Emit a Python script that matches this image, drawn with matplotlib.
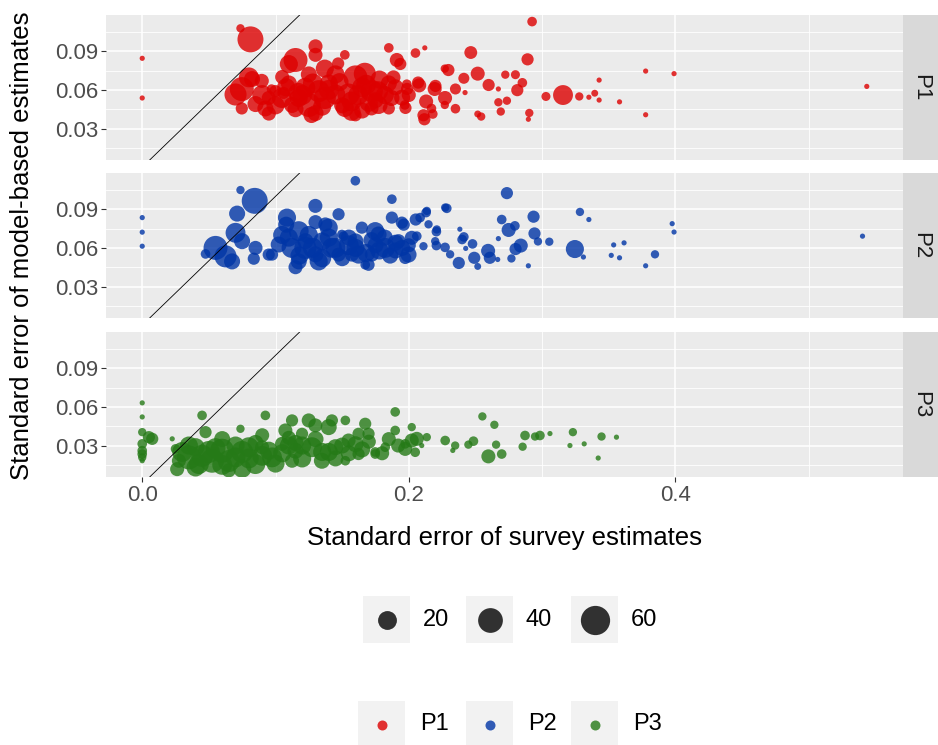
import numpy as np
import matplotlib
matplotlib.use("Agg")
import matplotlib.pyplot as plt
from matplotlib.patches import Rectangle
from matplotlib.ticker import MultipleLocator, FormatStrFormatter

plt.rcParams['font.family'] = ['Liberation Sans', 'DejaVu Sans']

DPI = 100
W, H = 938, 745

panels = ['P1', 'P2', 'P3']
colours = {'P1': '#DD0000', 'P2': '#0035A6', 'P3': '#257A17'}
size_breaks = [20, 40, 60]
size_limits = (1, 70)

# standard error of survey estimate (x), of model-based estimate (y), sample size (n)
p1_x = [0.000, 0.000, 0.0737, 0.0812, 0.0747, 0.0700, 0.0800, 0.0897, 0.0747, 0.0970,
        0.0924, 0.0950, 0.1047, 0.1150, 0.1100, 0.1300, 0.1300, 0.1370, 0.1520, 0.1470,
        0.1250, 0.1270, 0.1170, 0.1370, 0.1600, 0.1670, 0.1570, 0.1600, 0.1720, 0.1770,
        0.1850, 0.1910, 0.1885, 0.1870, 0.1850, 0.2050, 0.2120, 0.1985, 0.2070, 0.1970,
        0.2110, 0.2200, 0.2170, 0.2270, 0.2270, 0.2925, 0.1936, 0.2465, 0.2297, 0.2517,
        0.2413, 0.2724, 0.2800, 0.2891, 0.2852, 0.2814, 0.2599, 0.2672, 0.2350, 0.2194,
        0.2078, 0.1987, 0.2272, 0.2130, 0.1975, 0.2117, 0.2180, 0.2350, 0.2422, 0.2517,
        0.2543, 0.2672, 0.2736, 0.2690, 0.2904, 0.2897, 0.3029, 0.3157, 0.3279, 0.3351,
        0.3395, 0.3428, 0.3428, 0.3581, 0.3777, 0.3777, 0.3990, 0.5436, 0.0824, 0.0999,
        0.1060, 0.1124, 0.1224, 0.1324, 0.1449, 0.1570, 0.1723, 0.1773, 0.1548, 0.1174,
        0.0949, 0.1400, 0.1650, 0.1850, 0.1100, 0.1500, 0.1750,
        0.0900, 0.1000, 0.1080, 0.1150, 0.1200, 0.1280, 0.1350, 0.1400, 0.1480, 0.1520,
        0.1620, 0.1680, 0.1700, 0.1780, 0.1820, 0.1900, 0.1950, 0.1450, 0.1250, 0.1050,
        0.0850, 0.1650, 0.2000, 0.1300]
p1_y = [0.0845, 0.0537, 0.1078, 0.0992, 0.0606, 0.0564, 0.0697, 0.0670, 0.0456, 0.0606,
        0.0456, 0.0416, 0.0537, 0.0832, 0.0800, 0.0938, 0.0872, 0.0765, 0.0872, 0.0805,
        0.0483, 0.0405, 0.0577, 0.0537, 0.0697, 0.0725, 0.0510, 0.0403, 0.0456, 0.0590,
        0.0926, 0.0832, 0.0697, 0.0537, 0.0456, 0.0886, 0.0926, 0.0644, 0.0657, 0.0483,
        0.0403, 0.0631, 0.0456, 0.0765, 0.0483, 0.1130, 0.0801, 0.0890, 0.0754, 0.0726,
        0.0690, 0.0718, 0.0718, 0.0837, 0.0655, 0.0598, 0.0638, 0.0607, 0.0607, 0.0607,
        0.0635, 0.0607, 0.0537, 0.0510, 0.0460, 0.0372, 0.0413, 0.0454, 0.0579, 0.0413,
        0.0393, 0.0504, 0.0516, 0.0432, 0.0421, 0.0372, 0.0549, 0.0560, 0.0549, 0.0543,
        0.0574, 0.0521, 0.0676, 0.0507, 0.0746, 0.0407, 0.0726, 0.0627, 0.0684, 0.0590,
        0.0577, 0.0483, 0.0617, 0.0590, 0.0564, 0.0430, 0.0590, 0.0483, 0.0564, 0.0537,
        0.0537, 0.0650, 0.0620, 0.0650, 0.0650, 0.0480, 0.0520,
        0.0560, 0.0480, 0.0620, 0.0450, 0.0560, 0.0650, 0.0470, 0.0600, 0.0660, 0.0460,
        0.0560, 0.0640, 0.0500, 0.0680, 0.0560, 0.0620, 0.0540, 0.0720, 0.0720, 0.0700,
        0.0490, 0.0440, 0.0560, 0.0420]
p1_n = [1, 1, 2, 45, 37, 30, 23, 9, 6, 3,
        13, 9, 23, 37, 18, 9, 9, 18, 3, 6,
        37, 13, 23, 30, 37, 30, 23, 6, 9, 23,
        3, 9, 9, 13, 6, 3, 1, 3, 6, 3,
        6, 6, 3, 2, 2, 3, 6, 7, 6, 9,
        4.5, 2, 2.5, 6, 3, 6, 6, 1, 4.5, 9,
        9, 6, 9, 9, 6, 6, 3, 3, 1, 1.3,
        2, 2, 2, 2, 2, 1, 2.5, 23, 2, 1,
        1.3, 1, 1, 1, 1, 1, 1, 1, 13, 6,
        6, 13, 23, 30, 23, 18, 30, 18, 30, 18,
        9, 18, 23, 13, 13, 13, 13,
        23, 18, 18, 13, 23, 23, 18, 23, 18, 18,
        23, 23, 18, 18, 18, 13, 13, 18, 13, 9,
        13, 13, 9, 13]

p2_x = [0.000, 0.000, 0.000, 0.0737, 0.0844, 0.0712, 0.0700, 0.0550, 0.0475, 0.0625,
        0.0674, 0.0749, 0.0850, 0.0837, 0.0974, 0.1024, 0.1086, 0.1174, 0.1299, 0.1224,
        0.1324, 0.1399, 0.1473, 0.1423, 0.1511, 0.1599, 0.1648, 0.1623, 0.1748, 0.1698,
        0.1823, 0.1873, 0.1873, 0.1948, 0.2022, 0.1998, 0.2085, 0.2135, 0.2148, 0.2210,
        0.2273, 0.2110, 0.2198, 0.2060, 0.1374, 0.1224, 0.1174, 0.1498, 0.1473, 0.1673,
        0.1773, 0.1923, 0.1973, 0.1723, 0.1573, 0.0949, 0.2736, 0.2285, 0.2130, 0.1962,
        0.2052, 0.2207, 0.2383, 0.2413, 0.2400, 0.2478, 0.2427, 0.2207, 0.2272, 0.2310,
        0.2375, 0.2491, 0.2517, 0.2595, 0.2608, 0.2667, 0.2672, 0.2697, 0.2749, 0.2796,
        0.2801, 0.2840, 0.2770, 0.2897, 0.2936, 0.2943, 0.2969, 0.3054, 0.3246, 0.3310,
        0.3284, 0.3351, 0.3537, 0.3615, 0.3519, 0.3581, 0.3777, 0.3847, 0.3976, 0.3990,
        0.5404, 0.1350, 0.1550, 0.1100, 0.1900, 0.1300, 0.1600, 0.1750,
        0.1050, 0.1120, 0.1180, 0.1250, 0.1280, 0.1350, 0.1400, 0.1450, 0.1500, 0.1550,
        0.1600, 0.1680, 0.1720, 0.1780, 0.1820, 0.1860, 0.1900, 0.1950, 0.2000, 0.1080,
        0.1150, 0.1300]
p2_y = [0.0835, 0.0722, 0.0613, 0.1049, 0.0965, 0.0866, 0.0717, 0.0600, 0.0553, 0.0534,
        0.0495, 0.0652, 0.0600, 0.0516, 0.0548, 0.0626, 0.0835, 0.0730, 0.0926, 0.0600,
        0.0495, 0.0757, 0.0861, 0.0600, 0.0691, 0.1121, 0.0757, 0.0548, 0.0730, 0.0469,
        0.0600, 0.0978, 0.0835, 0.0796, 0.0678, 0.0548, 0.0835, 0.0887, 0.0783, 0.0743,
        0.0913, 0.0613, 0.0652, 0.0691, 0.0782, 0.0652, 0.0495, 0.0704, 0.0548, 0.0469,
        0.0704, 0.0652, 0.0522, 0.0548, 0.0548, 0.0548, 0.1025, 0.0907, 0.0874, 0.0780,
        0.0820, 0.0726, 0.0745, 0.0685, 0.0665, 0.0631, 0.0596, 0.0618, 0.0604, 0.0550,
        0.0483, 0.0523, 0.0456, 0.0577, 0.0523, 0.0510, 0.0672, 0.0820, 0.0739, 0.0771,
        0.0591, 0.0618, 0.0518, 0.0461, 0.0842, 0.0712, 0.0650, 0.0648, 0.0591, 0.0529,
        0.0879, 0.0820, 0.0623, 0.0639, 0.0542, 0.0523, 0.0461, 0.0550, 0.0788, 0.0723,
        0.0691, 0.0650, 0.0620, 0.0680, 0.0580, 0.0550, 0.0650, 0.0620,
        0.0700, 0.0600, 0.0540, 0.0700, 0.0600, 0.0520, 0.0680, 0.0600, 0.0520, 0.0680,
        0.0600, 0.0560, 0.0660, 0.0580, 0.0680, 0.0540, 0.0640, 0.0600, 0.0620, 0.0780,
        0.0450, 0.0800]
p2_n = [1, 1, 1, 2, 45, 13, 23, 37, 3, 30,
        13, 13, 9, 6, 6, 13, 18, 23, 9, 30,
        18, 18, 6, 23, 3, 3, 6, 18, 18, 6,
        23, 3, 6, 6, 9, 13, 3, 2, 2, 2,
        2, 2, 2, 3, 9, 13, 13, 3, 9, 3,
        13, 9, 6, 9, 9, 6, 6, 3, 3, 6,
        6, 3, 1, 3, 3, 3, 1, 3, 3, 2,
        6, 6, 1.3, 9, 6, 1, 1, 3, 9, 3,
        6, 9, 2, 1, 6, 6, 2, 2, 18, 1,
        2, 1, 1, 1, 1, 1, 1, 2, 1, 1,
        1, 18, 23, 18, 13, 13, 13, 13,
        18, 23, 18, 18, 23, 18, 18, 23, 13, 13,
        18, 18, 13, 18, 13, 13, 13, 13, 9, 13,
        9, 9]

p3_x = [0.000, 0.000, 0.000, 0.0050, 0.0075, 0.000, 0.000, 0.000, 0.000, 0.000,
        0.0225, 0.0250, 0.0275, 0.0262, 0.0350, 0.0400, 0.0449, 0.0475, 0.0524, 0.0425,
        0.0599, 0.0649, 0.0700, 0.0737, 0.0799, 0.0849, 0.0924, 0.0899, 0.0974, 0.1049,
        0.1124, 0.1074, 0.1149, 0.1124, 0.1199, 0.1249, 0.1299, 0.1274, 0.1348, 0.1399,
        0.1423, 0.1449, 0.1524, 0.1548, 0.1524, 0.1623, 0.1623, 0.1673, 0.1698, 0.1748,
        0.1823, 0.1898, 0.1898, 0.2022, 0.2135, 0.1973, 0.1748, 0.2022, 0.1973, 0.2060,
        0.2048, 0.2097, 0.2273, 0.2348, 0.2330, 0.2447, 0.2485, 0.2552, 0.2642, 0.2655,
        0.2597, 0.2697, 0.2872, 0.2854, 0.2984, 0.2947, 0.3059, 0.3231, 0.3209, 0.3316,
        0.3421, 0.3446, 0.3558, 0.0500, 0.0750, 0.0900, 0.1200, 0.1400, 0.0600, 0.0300,
        0.1100,
        0.0350, 0.0450, 0.0550, 0.0650, 0.0700, 0.0800, 0.0850, 0.0950, 0.1000, 0.1050,
        0.1150, 0.1200, 0.1300, 0.1350, 0.1450, 0.1500, 0.1550, 0.1600, 0.1650, 0.1700,
        0.1800, 0.1850, 0.1920, 0.0400, 0.0750, 0.0600, 0.0900, 0.1100]
p3_y = [0.0631, 0.0522, 0.0404, 0.0365, 0.0352, 0.0313, 0.0260, 0.0208, 0.0182, 0.0234,
        0.0352, 0.0274, 0.0182, 0.0117, 0.0208, 0.0287, 0.0534, 0.0404, 0.0182, 0.0156,
        0.0260, 0.0107, 0.0208, 0.0430, 0.0287, 0.0156, 0.0534, 0.0287, 0.0208, 0.0313,
        0.0495, 0.0417, 0.0260, 0.0182, 0.0391, 0.0495, 0.0456, 0.0287, 0.0182, 0.0443,
        0.0495, 0.0287, 0.0495, 0.0339, 0.0182, 0.0391, 0.0234, 0.0469, 0.0391, 0.0234,
        0.0287, 0.0417, 0.0561, 0.0443, 0.0365, 0.0313, 0.0250, 0.0339, 0.0274, 0.0352,
        0.0248, 0.0300, 0.0339, 0.0300, 0.0262, 0.0307, 0.0334, 0.0526, 0.0461, 0.0307,
        0.0216, 0.0234, 0.0378, 0.0291, 0.0378, 0.0370, 0.0393, 0.0404, 0.0300, 0.0313,
        0.0203, 0.0370, 0.0365, 0.0250, 0.0250, 0.0220, 0.0300, 0.0250, 0.0150, 0.0250,
        0.0300,
        0.0300, 0.0220, 0.0280, 0.0180, 0.0300, 0.0200, 0.0320, 0.0260, 0.0160, 0.0240,
        0.0320, 0.0200, 0.0350, 0.0250, 0.0200, 0.0300, 0.0240, 0.0310, 0.0270, 0.0330,
        0.0240, 0.0350, 0.0300, 0.0130, 0.0120, 0.0350, 0.0380, 0.0360]
p3_n = [1, 1, 2, 6, 6, 3, 3, 2, 1, 3,
        1, 3, 9, 9, 37, 18, 3, 6, 37, 23,
        37, 9, 23, 2, 23, 23, 3, 9, 23, 9,
        6, 9, 13, 9, 6, 9, 9, 23, 13, 13,
        6, 13, 3, 9, 3, 6, 6, 6, 6, 3,
        3, 3, 3, 2, 2, 3, 3, 9, 9, 9,
        3, 1, 3, 2, 1, 2, 3, 2, 2, 2,
        9, 3, 3, 2, 3, 2, 1, 2, 1, 1,
        1, 2, 1, 30, 30, 23, 18, 18, 23, 23,
        18,
        18, 30, 23, 30, 18, 23, 13, 18, 18, 18,
        13, 18, 13, 18, 13, 13, 13, 13, 13, 9,
        9, 9, 9, 18, 18, 13, 9, 9]

series = {'P1': (p1_x, p1_y, p1_n), 'P2': (p2_x, p2_y, p2_n), 'P3': (p3_x, p3_y, p3_n)}


def point_area(n):
    # area scale like ggplot's scale_size (range 1..6 mm), returned as points^2
    n = np.asarray(n, dtype=float)
    frac = np.clip((n - size_limits[0]) / (size_limits[1] - size_limits[0]), 0, 1)
    d_px = 5.2 * (1 + 5 * np.sqrt(frac))
    return (d_px * 72 / DPI) ** 2


def expand(lo, hi, mult=0.05):
    pad = (hi - lo) * mult
    return lo - pad, hi + pad


all_x = np.concatenate([series[p][0] for p in panels])
all_y = np.concatenate([series[p][1] for p in panels])
xlim = expand(all_x.min(), all_x.max())
ylim = expand(all_y.min(), all_y.max())

fig = plt.figure(figsize=(W / DPI, H / DPI), dpi=DPI)

left, right = 106, 903
panel_tops = [15, 173, 332]
panel_h = 145

for i, name in enumerate(panels):
    top = panel_tops[i]
    rect = [left / W, 1 - (top + panel_h) / H, (right - left) / W, panel_h / H]
    ax = fig.add_axes(rect)
    ax.set_facecolor('#EBEBEB')
    xs, ys, ns = series[name]
    ax.scatter(xs, ys, s=point_area(ns), color=colours[name], alpha=0.8,
               linewidths=0, zorder=2)
    ax.axline((0, 0), slope=1, color='black', lw=0.6, zorder=3)
    ax.set_xlim(xlim)
    ax.set_ylim(ylim)

    ax.xaxis.set_major_locator(MultipleLocator(0.2))
    ax.xaxis.set_minor_locator(MultipleLocator(0.1))
    ax.yaxis.set_major_locator(MultipleLocator(0.03))
    ax.yaxis.set_minor_locator(MultipleLocator(0.015))
    ax.xaxis.set_major_formatter(FormatStrFormatter('%.1f'))
    ax.yaxis.set_major_formatter(FormatStrFormatter('%.2f'))
    ax.grid(which='major', color='white', lw=1.1)
    ax.grid(which='minor', color='white', lw=0.6)
    ax.set_axisbelow(True)
    for sp in ax.spines.values():
        sp.set_visible(False)
    ax.tick_params(which='minor', length=0)
    ax.tick_params(which='major', length=3.5, width=0.8, color='#333333',
                   labelcolor='#4D4D4D', labelsize=16, pad=2)
    if i < len(panels) - 1:
        ax.tick_params(axis='x', length=0, labelbottom=False)

    # facet strip on the right
    sax = fig.add_axes([right / W, rect[1], (W - right) / W, rect[3]])
    sax.set_facecolor('#D9D9D9')
    sax.set_xticks([])
    sax.set_yticks([])
    for sp in sax.spines.values():
        sp.set_visible(False)
    sax.text(0.5, 0.5, name, rotation=-90, ha='center', va='center',
             fontsize=16, color='#1A1A1A', transform=sax.transAxes)

fig.text(22 / W, 1 - 246 / H, 'Standard error of model-based estimates',
         rotation=90, ha='center', va='center', fontsize=18.5)
fig.text((left + right) / 2 / W, 1 - 538 / H, 'Standard error of survey estimates',
         ha='center', va='center', fontsize=18.5)

# legends, laid out in pixel units
leg = fig.add_axes([0, 0, 1, 1], zorder=5)
leg.set_xlim(0, W)
leg.set_ylim(H, 0)
leg.axis('off')

key = 47
size_key_x = [363, 466, 571]
for kx, b in zip(size_key_x, size_breaks):
    leg.add_patch(Rectangle((kx, 596), key, key, facecolor='#F2F2F2', edgecolor='none'))
    leg.scatter(kx + key / 2, 596 + key / 2, s=point_area(b), color='black',
                alpha=0.8, linewidths=0)
    leg.text(kx + key + 13, 596 + key / 2 + 1, str(b), ha='left', va='center', fontsize=17)

colour_key_x = [358, 466, 571]
for kx, name in zip(colour_key_x, panels):
    leg.add_patch(Rectangle((kx, 701), key, key, facecolor='#F2F2F2', edgecolor='none'))
    leg.scatter(kx + key / 2, 701 + key / 2, s=(10 * 72 / DPI) ** 2, color=colours[name],
                alpha=0.8, linewidths=0)
    leg.text(kx + key + 15, 701 + key / 2, name, ha='left', va='center', fontsize=17)

fig.savefig('out.png', dpi=DPI)
